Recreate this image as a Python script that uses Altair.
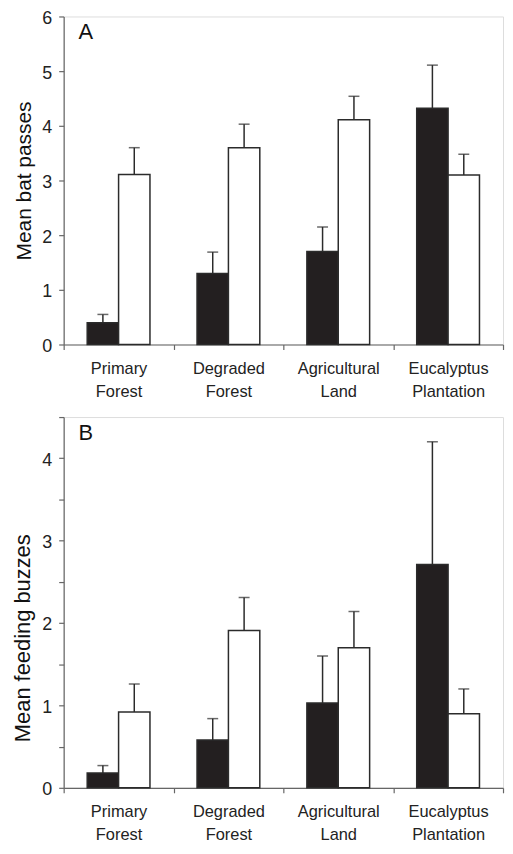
import altair as alt
import pandas as pd

categories = ["Primary Forest", "Degraded Forest", "Agricultural Land", "Eucalyptus Plantation"]
series = ["Filled", "Open"]

# Panel A: mean bat passes
a_filled_mean = [0.40, 1.30, 1.70, 4.32]
a_filled_upper = [0.55, 1.69, 2.15, 5.11]
a_open_mean = [3.11, 3.60, 4.11, 3.10]
a_open_upper = [3.60, 4.03, 4.54, 3.48]

# Panel B: mean feeding buzzes
b_filled_mean = [0.18, 0.58, 1.03, 2.71]
b_filled_upper = [0.27, 0.84, 1.60, 4.20]
b_open_mean = [0.92, 1.91, 1.70, 0.90]
b_open_upper = [1.26, 2.31, 2.14, 1.20]


def make_df(fm, fu, om, ou):
    rows = []
    for i, c in enumerate(categories):
        rows.append({"habitat": c, "series": series[0], "mean": fm[i], "upper": fu[i]})
        rows.append({"habitat": c, "series": series[1], "mean": om[i], "upper": ou[i]})
    return pd.DataFrame(rows)


df_a = make_df(a_filled_mean, a_filled_upper, a_open_mean, a_open_upper)
df_b = make_df(b_filled_mean, b_filled_upper, b_open_mean, b_open_upper)

FONT = "Liberation Sans"
AX = "#666666"
LINE = "#2b2b2b"

x_enc = alt.X(
    "habitat:N",
    sort=categories,
    scale=alt.Scale(paddingInner=0, paddingOuter=0),
    axis=alt.Axis(
        title=None,
        labelAngle=0,
        tickBand="extent",
        labelExpr="split(datum.label, ' ')",
        labelFontSize=16.5,
        labelLineHeight=23,
        labelPadding=11,
        labelColor="#222222",
        labelFont=FONT,
        tickSize=5,
        tickColor=AX,
        domainColor=AX,
        tickWidth=1.2,
        domainWidth=1.2,
    ),
)
xoff_enc = alt.XOffset(
    "series:N", sort=series, scale=alt.Scale(paddingInner=0, paddingOuter=0.75)
)


def panel(df, ymax, yvals, title, title_size, title_y, label, height):
    yaxis = alt.Axis(
        values=yvals,
        labelExpr="datum.value % 1 == 0 ? format(datum.value, 'd') : ''",
        title=title,
        titleFontSize=title_size,
        titleFontWeight="normal",
        titleFont=FONT,
        titleColor="#111111",
        titlePadding=7,
        labelFontSize=18,
        labelFont=FONT,
        labelColor="#222222",
        labelPadding=7,
        labelOffset=2,
        tickSize=5,
        tickColor=AX,
        domainColor=AX,
        tickWidth=1.2,
        domainWidth=1.2,
        grid=False,
        **({"titleY": title_y} if title_y is not None else {}),
    )
    y_enc = alt.Y("mean:Q", scale=alt.Scale(domain=[0, ymax], nice=False), axis=yaxis)
    base = alt.Chart(df)
    bars = base.mark_bar(stroke=LINE, strokeWidth=1.5).encode(
        x=x_enc,
        xOffset=xoff_enc,
        y=y_enc,
        fill=alt.Fill(
            "series:N",
            scale=alt.Scale(domain=series, range=["#231f20", "#ffffff"]),
            legend=None,
        ),
    )
    err = base.mark_rule(color=LINE, strokeWidth=1.5).encode(
        x=x_enc, xOffset=xoff_enc, y="mean:Q", y2="upper:Q"
    )
    caps = base.mark_tick(
        orient="horizontal", color=LINE, size=11, thickness=1.5
    ).encode(x=x_enc, xOffset=xoff_enc, y="upper:Q")
    lab = alt.Chart(pd.DataFrame({"t": [label]})).mark_text(
        align="left", baseline="top", fontSize=22, font=FONT, color="#111111"
    ).encode(x=alt.value(15), y=alt.value(6), text="t:N")
    return alt.layer(bars, err, caps, lab).properties(width=442, height=height)


panel_a = panel(df_a, 6, [0, 1, 2, 3, 4, 5, 6], "Mean bat passes", 21, None, "A", 330)
panel_b = panel(
    df_b, 4.5, [0, 0.5, 1, 1.5, 2, 2.5, 3, 3.5, 4, 4.5],
    "Mean feeding buzzes", 22, 222, "B", 373,
)

chart = (
    alt.vconcat(panel_a, panel_b, spacing=15)
    .properties(padding={"left": 3, "top": -2, "right": 0, "bottom": 0})
    .configure_view(stroke=None)
    .configure(background="white")
)

chart.save("out.html", embed_options={"renderer": "svg", "actions": False})
